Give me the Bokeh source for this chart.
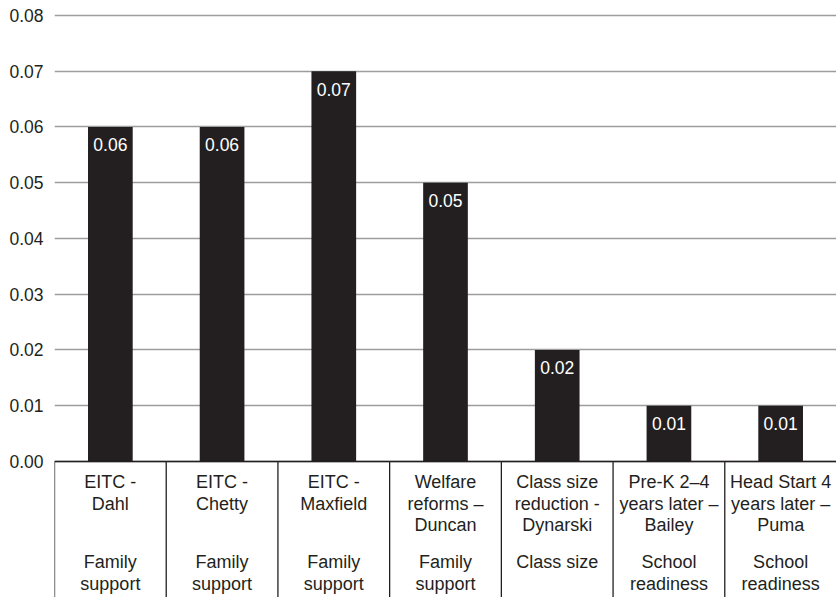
from bokeh.plotting import figure
from bokeh.models import ColumnDataSource, Range1d, FactorRange, FixedTicker, PrintfTickFormatter
from bokeh.transform import dodge
from bokeh.core.properties import value
from bokeh.embed import file_html
from bokeh.resources import INLINE

studies = ["EITC - Dahl", "EITC - Chetty", "EITC - Maxfield", "Welfare reforms \u2013 Duncan",
           "Class size reduction - Dynarski", "Pre-K 2\u20134 years later \u2013 Bailey",
           "Head Start 4 years later \u2013 Puma"]
study_labels = ["EITC -\nDahl", "EITC -\nChetty", "EITC -\nMaxfield", "Welfare\nreforms \u2013\nDuncan",
                "Class size\nreduction -\nDynarski", "Pre-K 2\u20134\nyears later \u2013\nBailey",
                "Head Start 4\nyears later \u2013\nPuma"]
groups = ["Family\nsupport", "Family\nsupport", "Family\nsupport", "Family\nsupport",
          "Class size", "School\nreadiness", "School\nreadiness"]
effects = [0.06, 0.06, 0.07, 0.05, 0.02, 0.01, 0.01]
y_ticks = [0.00, 0.01, 0.02, 0.03, 0.04, 0.05, 0.06, 0.07, 0.08]

FONT = "Liberation Sans"
DARK = "#231f20"

src = ColumnDataSource(dict(
    study=studies, label=study_labels, group=groups, effect=effects,
    efftxt=[f"{v:.2f}" for v in effects],
    zero=[0.0] * len(studies),
))

p = figure(width=836, height=597, output_backend="svg", toolbar_location=None,
           x_range=FactorRange(*studies, range_padding=0),
           y_range=Range1d(-0.024395, 0.081435),
           min_border_left=54, min_border_right=0, min_border_top=7, min_border_bottom=0)
p.outline_line_color = None
p.xaxis.visible = False
p.xgrid.grid_line_color = None

p.yaxis.ticker = FixedTicker(ticks=y_ticks)
p.yaxis.formatter = PrintfTickFormatter(format="%.2f")
p.yaxis.axis_line_color = None
p.yaxis.major_tick_line_color = None
p.yaxis.minor_tick_line_color = None
p.yaxis.major_tick_in = 0
p.yaxis.major_tick_out = 0
p.yaxis.major_label_standoff = 11
p.yaxis.major_label_text_font = FONT
p.yaxis.major_label_text_font_size = "17.5px"
p.yaxis.major_label_text_color = DARK

p.ygrid.ticker = FixedTicker(ticks=y_ticks)
p.ygrid.grid_line_color = "#9d9d9d"
p.ygrid.grid_line_width = 1.5

p.vbar(x="study", top="effect", bottom=0, width=0.4, source=src,
       fill_color=DARK, line_color=None)

p.text(x="study", y="effect", text="efftxt", source=src, text_color="white",
       text_font=value(FONT), text_font_size="17.5px", text_align="center",
       text_baseline="middle", y_offset=18)

# axis line at zero
p.segment(x0=dodge("study", -0.5, range=p.x_range), x1=dodge("study", 0.5, range=p.x_range),
          y0="zero", y1="zero", source=src, line_color=DARK, line_width=1.3)

# separators (left edge of every category)
ymin = p.y_range.start
p.segment(x0=dodge("study", -0.5, range=p.x_range), x1=dodge("study", -0.5, range=p.x_range),
          y0=0, y1=ymin, source=src, line_color=DARK, line_width=1.3)

p.text(x="study", y="zero", text="label", source=src, text_color=DARK,
       text_font=value(FONT), text_font_size="18px", text_align="center",
       text_baseline="top", y_offset=11, text_line_height=1.07)
p.text(x="study", y="zero", text="group", source=src, text_color=DARK,
       text_font=value(FONT), text_font_size="18px", text_align="center",
       text_baseline="top", y_offset=91, text_line_height=1.07)

open("out.html", "w").write(file_html(p, INLINE))
